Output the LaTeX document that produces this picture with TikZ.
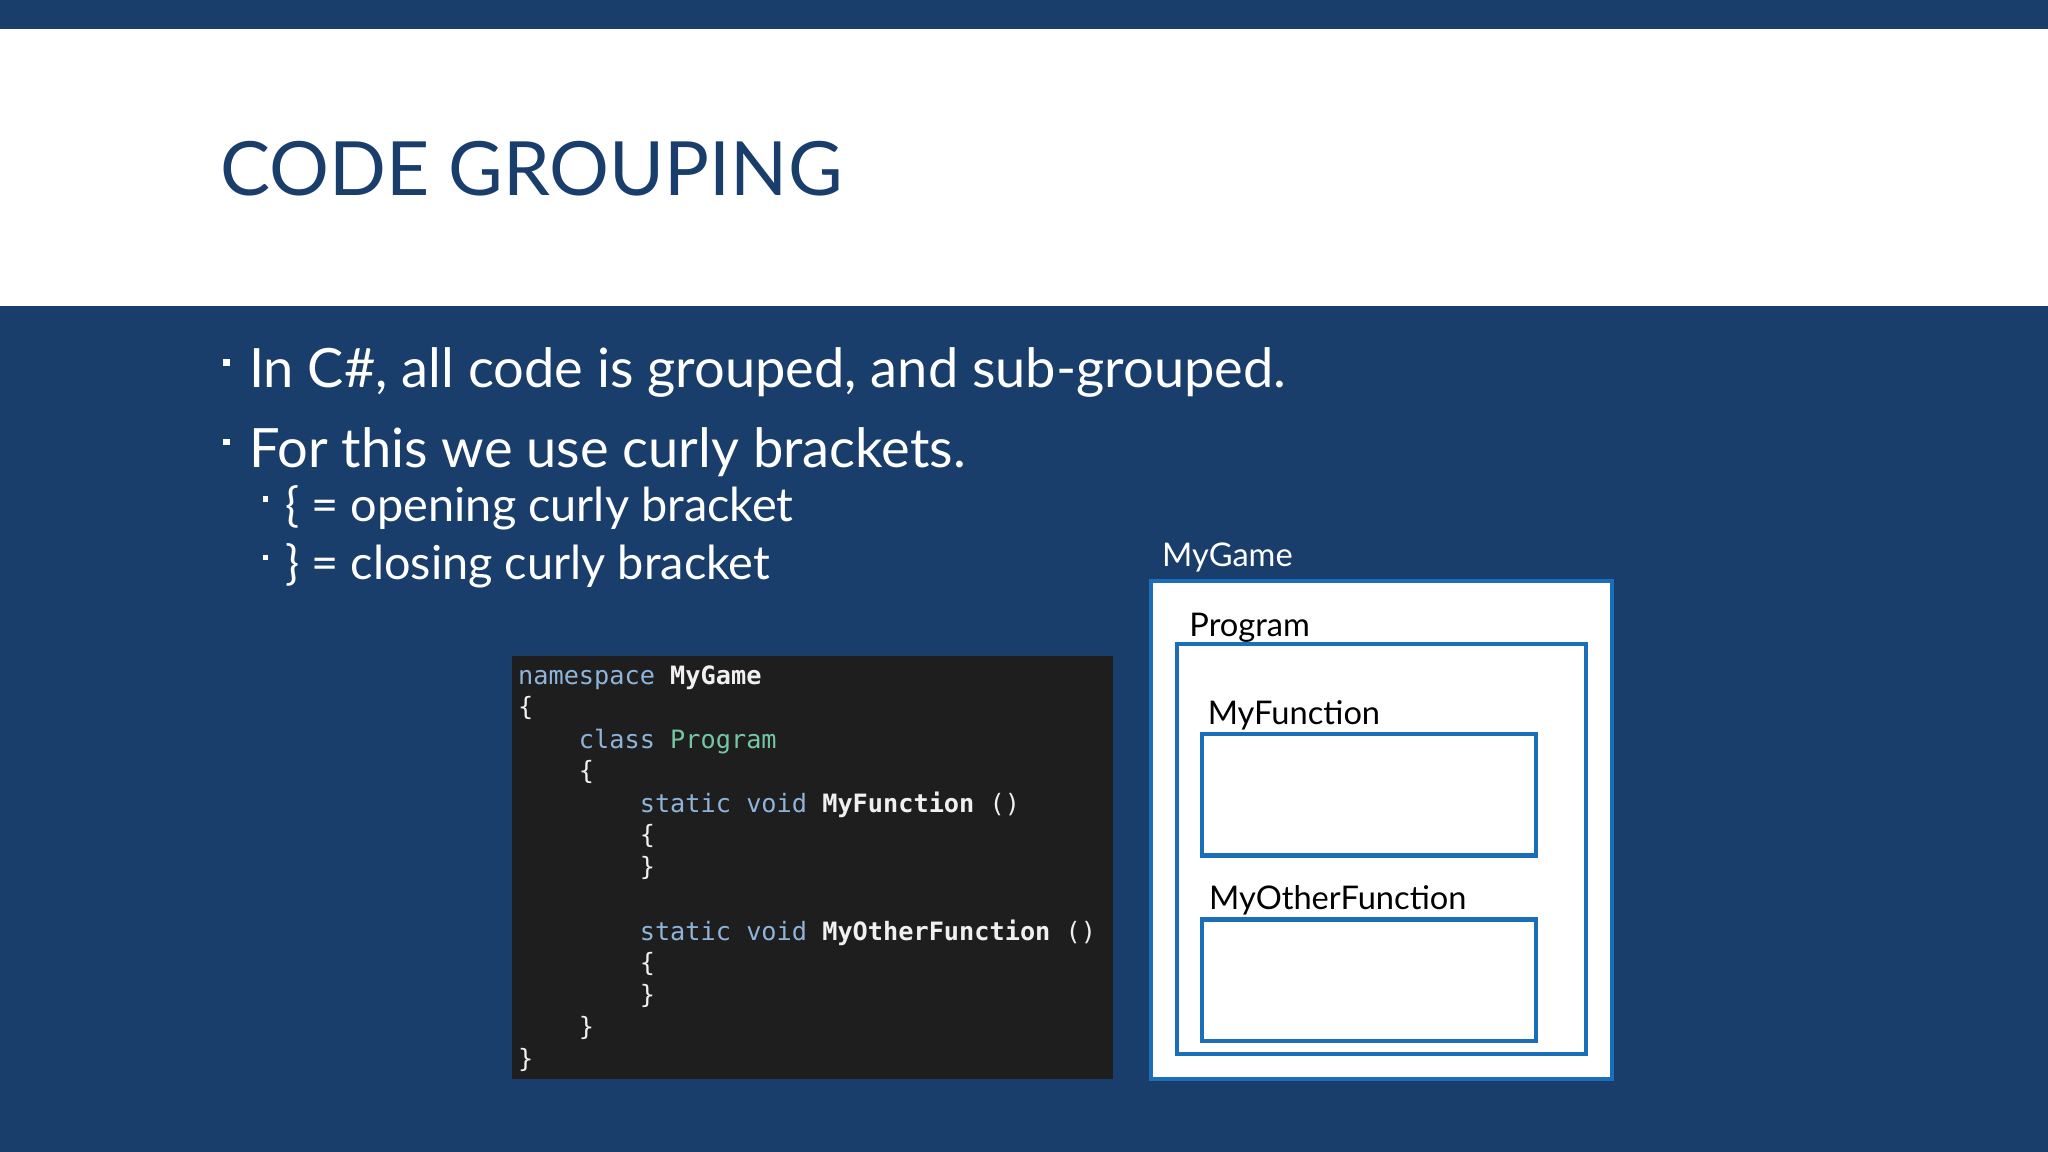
\documentclass[tikz,border=0pt]{standalone}
\usepackage{fontspec}
\setmainfont{Lato}
\setmonofont{DejaVu Sans Mono}
\definecolor{navy}{HTML}{1A3E6B}
\definecolor{boxblue}{HTML}{1A6FB8}
\definecolor{codebg}{HTML}{1E1E1E}
\definecolor{kw}{HTML}{8FB4DC}
\definecolor{ty}{HTML}{74C7A4}
\definecolor{cw}{HTML}{F0F0F0}
\begin{document}
\begin{tikzpicture}[x=0.01cm,y=-0.01cm,
  bul/.style={anchor=base west,text=white,font=\fontsize{11.8}{14}\selectfont,inner sep=0},
  sbul/.style={anchor=base west,text=white,font=\fontsize{10.2}{12}\selectfont,inner sep=0},
  cl/.style={anchor=base west,inner sep=0,font=\ttfamily\fontsize{5.5}{6}\selectfont,text=cw},
  lbl/.style={anchor=base west,inner sep=0,font=\fontsize{7.1}{8}\selectfont},
  grp/.style={draw=boxblue,line width=0.9pt}]
\useasboundingbox (0,0) rectangle (1568,882);
\fill[navy] (0,0) rectangle (1568,882);
\fill[white] (0,22) rectangle (1568,234);
\node[anchor=base west,inner sep=0,text=navy,font=\fontsize{16.3}{18}\selectfont] (title) at (168,150) {CODE GROUPING};
\fill[white] (171,275) rectangle (176,280);
\node[bul] (b1) at (190,297) {In C\#, all code is grouped, and sub-grouped.};
\fill[white] (171,336) rectangle (176,341);
\node[bul] (b2) at (190,358) {For this we use curly brackets.};
\fill[white] (201,380) rectangle (205,384);
\node[sbul] (s1) at (218,399) {\{ = opening curly bracket};
\fill[white] (201,425) rectangle (205,429);
\node[sbul] (s2) at (218,444) {\} = closing curly bracket};
% code
\fill[codebg] (392,502) rectangle (852,826);
\node[cl] (c1) at (396,524) {\textcolor{kw}{namespace} \textbf{MyGame}};
\node[cl] (c2) at (396,548) {\{};
\node[cl] (c3) at (396,573) {\ \ \ \ \textcolor{kw}{class} \textcolor{ty}{Program}};
\node[cl] (c4) at (396,597) {\ \ \ \ \{};
\node[cl] (c5) at (396,622) {\ \ \ \ \ \ \ \ \textcolor{kw}{static void} \textbf{MyFunction} ()};
\node[cl] (c6) at (396,646) {\ \ \ \ \ \ \ \ \{};
\node[cl] (c7) at (396,670) {\ \ \ \ \ \ \ \ \}};
\node[cl] (c8) at (396,720) {\ \ \ \ \ \ \ \ \textcolor{kw}{static void} \textbf{MyOtherFunction} ()};
\node[cl] (c9) at (396,744) {\ \ \ \ \ \ \ \ \{};
\node[cl] (c10) at (396,768) {\ \ \ \ \ \ \ \ \}};
\node[cl] (c11) at (396,793) {\ \ \ \ \}};
\node[cl] (c12) at (396,817) {\}};
% groups
\node[lbl,text=white] (lg) at (889,434) {MyGame};
\draw[grp,fill=white] (881,445) rectangle (1234,826);
\node[lbl] (lp) at (910,487) {Program};
\draw[grp] (901,493) rectangle (1214,807);
\node[lbl] (lf) at (924,555) {MyFunction};
\draw[grp] (920,562) rectangle (1176,655);
\node[lbl] (lo) at (925,696) {MyOtherFunction};
\draw[grp] (920,704) rectangle (1176,797);
\end{tikzpicture}
\end{document}
